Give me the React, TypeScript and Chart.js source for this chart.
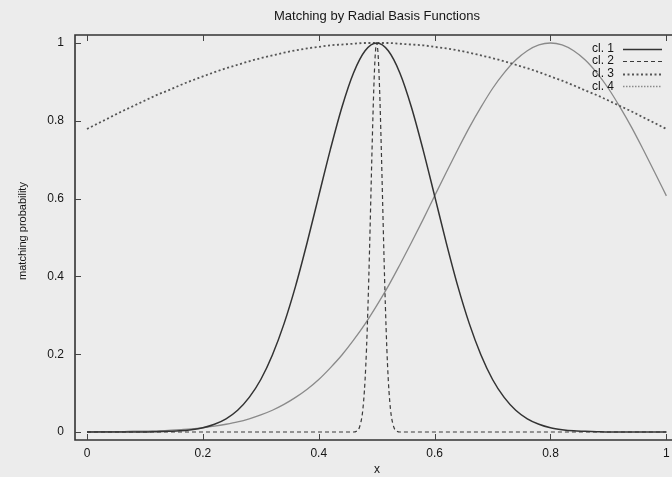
import { useEffect, useRef } from 'react';
import { Chart, registerables } from 'chart.js';

Chart.register(...registerables);

const TITLE = 'Matching by Radial Basis Functions';
const X_TITLE = 'x';
const Y_TITLE = 'matching probability';
const SERIES_NAMES = ['cl. 1', 'cl. 2', 'cl. 3', 'cl. 4'];

const X_TICKS = [0, 0.2, 0.4, 0.6, 0.8, 1];
const X_TICK_LABELS = ['0', '0.2', '0.4', '0.6', '0.8', '1'];
const Y_TICKS = [0, 0.2, 0.4, 0.6, 0.8, 1];
const Y_TICK_LABELS = ['0', '0.2', '0.4', '0.6', '0.8', '1'];

const GRID_X = [
  0, 0.02, 0.04, 0.06, 0.08, 0.1, 0.12, 0.14, 0.16, 0.18,
  0.2, 0.22, 0.24, 0.26, 0.28, 0.3, 0.32, 0.34, 0.36, 0.38,
  0.4, 0.42, 0.44, 0.46, 0.48, 0.5, 0.52, 0.54, 0.56, 0.58,
  0.6, 0.62, 0.64, 0.66, 0.68, 0.7, 0.72, 0.74, 0.76, 0.78,
  0.8, 0.82, 0.84, 0.86, 0.88, 0.9, 0.92, 0.94, 0.96, 0.98, 1,
];

const CL1 = [
  0, 0, 0, 0, 0, 0, 0.001, 0.002, 0.003, 0.006,
  0.011, 0.02, 0.034, 0.056, 0.089, 0.135, 0.198, 0.278, 0.375, 0.487,
  0.607, 0.726, 0.835, 0.923, 0.98, 1, 0.98, 0.923, 0.835, 0.726,
  0.607, 0.487, 0.375, 0.278, 0.198, 0.135, 0.089, 0.056, 0.034, 0.02,
  0.011, 0.006, 0.003, 0.002, 0.001, 0, 0, 0, 0, 0, 0,
];

const CL3 = [
  0.779, 0.794, 0.809, 0.824, 0.838, 0.852, 0.866, 0.878, 0.891, 0.903,
  0.914, 0.925, 0.935, 0.944, 0.953, 0.961, 0.968, 0.975, 0.981, 0.986,
  0.99, 0.994, 0.996, 0.998, 1, 1, 1, 0.998, 0.996, 0.994,
  0.99, 0.986, 0.981, 0.975, 0.968, 0.961, 0.953, 0.944, 0.935, 0.925,
  0.914, 0.903, 0.891, 0.878, 0.866, 0.852, 0.838, 0.824, 0.809, 0.794, 0.779,
];

const CL4 = [
  0, 0.001, 0.001, 0.001, 0.002, 0.002, 0.003, 0.004, 0.006, 0.008,
  0.011, 0.015, 0.02, 0.026, 0.034, 0.044, 0.056, 0.071, 0.089, 0.11,
  0.135, 0.165, 0.198, 0.236, 0.278, 0.325, 0.375, 0.43, 0.487, 0.546,
  0.607, 0.667, 0.726, 0.783, 0.835, 0.883, 0.923, 0.956, 0.98, 0.995,
  1, 0.995, 0.98, 0.956, 0.923, 0.883, 0.835, 0.783, 0.726, 0.667, 0.607,
];

const CL2_X = [
  0, 0.45, 0.46, 0.465, 0.47, 0.475, 0.4775, 0.48, 0.4825, 0.485, 0.4875,
  0.49, 0.4925, 0.495, 0.4975, 0.5, 0.5025, 0.505, 0.5075, 0.51, 0.5125,
  0.515, 0.5175, 0.52, 0.5225, 0.525, 0.53, 0.535, 0.54, 0.55, 1,
];
const CL2 = [
  0, 0, 0, 0.002, 0.011, 0.044, 0.08, 0.135, 0.216, 0.325, 0.458,
  0.607, 0.755, 0.882, 0.969, 1, 0.969, 0.882, 0.755, 0.607, 0.458,
  0.325, 0.216, 0.135, 0.08, 0.044, 0.011, 0.002, 0, 0, 0,
];

const FONT = '"Liberation Sans", Arial, Helvetica, sans-serif';
const TEXT = '#161616';

const framePlugin = {
  id: 'frame',
  beforeDraw(chart: any) {
    const { ctx, width, height } = chart;
    ctx.save();
    ctx.fillStyle = '#ececec';
    ctx.fillRect(0, 0, width, height);
    ctx.restore();
  },
  afterDatasetsDraw(chart: any) {
    const { ctx, chartArea, scales } = chart;
    const { left, right, top, bottom } = chartArea;
    ctx.save();
    ctx.strokeStyle = '#333';
    ctx.lineWidth = 1.6;
    ctx.beginPath();
    ctx.moveTo(right, top);
    ctx.lineTo(left, top);
    ctx.lineTo(left, bottom);
    ctx.lineTo(right, bottom);
    ctx.stroke();
    ctx.lineWidth = 1;
    ctx.strokeStyle = '#444';
    ctx.beginPath();
    X_TICKS.forEach((v) => {
      const px = Math.round(scales.x.getPixelForValue(v)) + 0.5;
      ctx.moveTo(px, bottom);
      ctx.lineTo(px, bottom - 6);
      ctx.moveTo(px, top);
      ctx.lineTo(px, top + 6);
    });
    Y_TICKS.forEach((v) => {
      const py = Math.round(scales.y.getPixelForValue(v)) + 0.5;
      ctx.moveTo(left, py);
      ctx.lineTo(left + 6, py);
      ctx.moveTo(right, py);
      ctx.lineTo(right - 6, py);
    });
    ctx.stroke();
    ctx.restore();
  },
  afterDraw(chart: any) {
    const { ctx, chartArea } = chart;
    const cx = (chartArea.left + chartArea.right) / 2;
    ctx.save();
    ctx.fillStyle = TEXT;
    ctx.textAlign = 'center';
    ctx.textBaseline = 'middle';
    ctx.font = `13px ${FONT}`;
    ctx.fillText(TITLE, cx, 16);
    ctx.font = `12px ${FONT}`;
    ctx.fillText(X_TITLE, cx, 470);
    ctx.save();
    ctx.translate(23, 231);
    ctx.rotate(-Math.PI / 2);
    ctx.font = `11px ${FONT}`;
    ctx.fillText(Y_TITLE, 0, 0);
    ctx.restore();

    // legend
    chart.data.datasets.forEach((ds: any, i: number) => {
      const y = 48.5 + i * 12.6;
      ctx.font = `12px ${FONT}`;
      ctx.textAlign = 'right';
      ctx.fillStyle = TEXT;
      ctx.fillText(SERIES_NAMES[i], 614, y);
      ctx.save();
      ctx.strokeStyle = ds.borderColor;
      ctx.lineWidth = ds.borderWidth;
      ctx.setLineDash(ds.legendDash || ds.borderDash || []);
      ctx.beginPath();
      ctx.moveTo(623, Math.round(y) + 0.5);
      ctx.lineTo(662, Math.round(y) + 0.5);
      ctx.stroke();
      ctx.restore();
    });
    ctx.restore();
  },
};

export default function App() {
  const ref = useRef<HTMLCanvasElement | null>(null);

  useEffect(() => {
    if (!ref.current) return;
    const datasets = [
      {
        label: SERIES_NAMES[0],
        data: GRID_X.map((x, i) => ({ x, y: CL1[i] })),
        borderColor: '#333',
        borderWidth: 1.5,
        borderDash: [],
      },
      {
        label: SERIES_NAMES[1],
        data: CL2_X.map((x, i) => ({ x, y: CL2[i] })),
        borderColor: '#3a3a3a',
        borderWidth: 1.2,
        borderDash: [4, 3],
      },
      {
        label: SERIES_NAMES[2],
        data: GRID_X.map((x, i) => ({ x, y: CL3[i] })),
        borderColor: '#555',
        borderWidth: 1.8,
        borderDash: [2, 2.5],
      },
      {
        label: SERIES_NAMES[3],
        data: GRID_X.map((x, i) => ({ x, y: CL4[i] })),
        borderColor: '#8a8a8a',
        borderWidth: 1.3,
        borderDash: [],
        legendDash: [1.5, 1.5],
      },
    ];
    const chart = new Chart(ref.current, {
      type: 'line',
      data: { datasets: datasets as any },
      options: {
        responsive: false,
        animation: false,
        layout: { padding: { top: 35, right: 1, left: 0, bottom: 0 } },
        elements: {
          point: { radius: 0 },
          line: { cubicInterpolationMode: 'monotone', fill: false },
        },
        plugins: {
          legend: { display: false },
          title: { display: false },
          tooltip: { enabled: false },
        },
        scales: {
          x: {
            type: 'linear',
            min: -0.0207,
            max: 1.0218,
            grid: { display: false, drawTicks: false },
            border: { display: false },
            afterBuildTicks: (s: any) => {
              s.ticks = X_TICKS.map((v) => ({ value: v }));
            },
            afterFit: (s: any) => {
              s.height = 37;
            },
            ticks: {
              autoSkip: false,
              maxRotation: 0,
              padding: 6,
              color: TEXT,
              font: { family: FONT, size: 12 },
              callback: (v: any) => X_TICK_LABELS[X_TICKS.indexOf(Number(v))] ?? '',
            },
          },
          y: {
            type: 'linear',
            min: -0.0205,
            max: 1.0205,
            grid: { display: false, drawTicks: false },
            border: { display: false },
            afterBuildTicks: (s: any) => {
              s.ticks = Y_TICKS.map((v) => ({ value: v }));
            },
            afterFit: (s: any) => {
              s.width = 75;
            },
            ticks: {
              autoSkip: false,
              padding: 11,
              color: TEXT,
              font: { family: FONT, size: 12 },
              callback: (v: any) => Y_TICK_LABELS[Y_TICKS.indexOf(Number(v))] ?? '',
            },
          },
        },
      },
      plugins: [framePlugin],
    });
    return () => chart.destroy();
  }, []);

  return (
    <div
      style={{
        position: 'absolute',
        left: 0,
        top: 0,
        width: 672,
        height: 477,
        overflow: 'hidden',
        background: '#ececec',
      }}
    >
      <canvas ref={ref} width={680} height={477} style={{ display: 'block' }} />
    </div>
  );
}
